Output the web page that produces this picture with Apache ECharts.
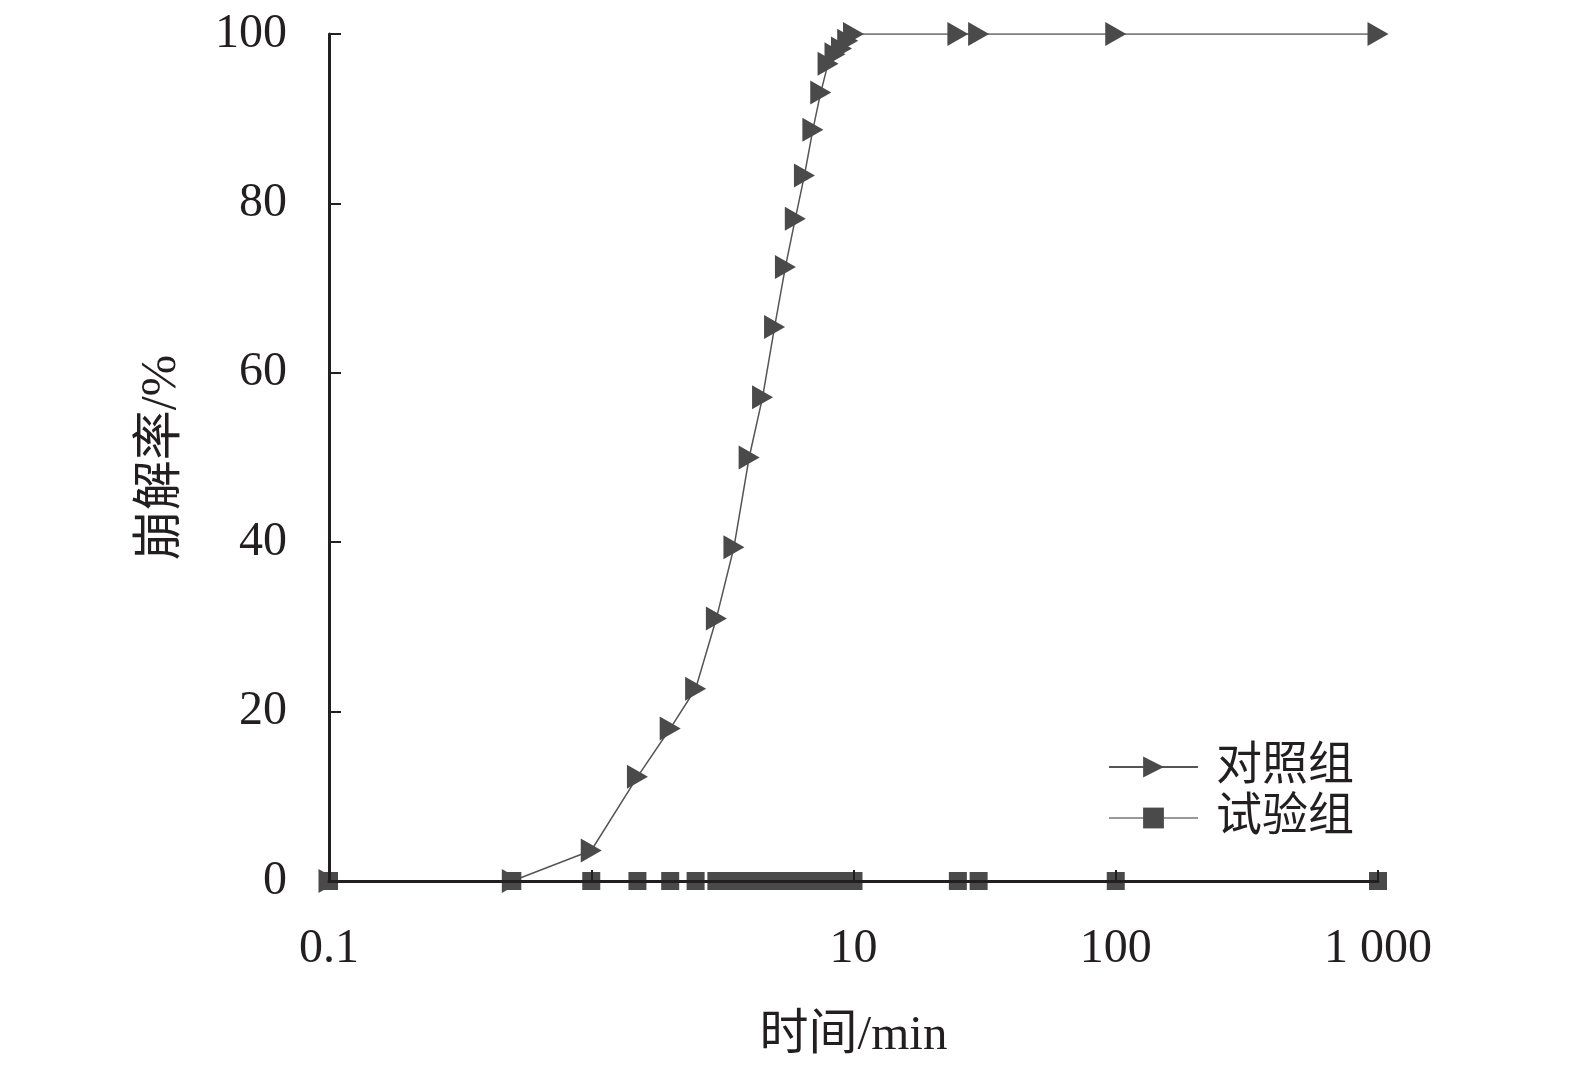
<!DOCTYPE html>
<html lang="zh">

<head>
  <meta charset="UTF-8">
  <title>崩解率</title>
  <script src="https://cdn.jsdelivr.net/npm/echarts@6/dist/echarts.min.js"></script>
  <style>
    html,
    body {
      padding: 0;
      margin: 0;
      background: #fff;
    }

    #chart {
      width: 1575px;
      height: 1073px;
    }
  </style>
</head>

<body>
  <div id="chart"></div>
  <script>
    // 时间 (min)
    const times = [0.1, 0.5, 1, 1.5, 2, 2.5, 3, 3.5, 4, 4.5, 5, 5.5, 6, 6.5, 7, 7.5, 8, 8.5, 9, 9.5, 10, 25, 30, 100, 1000]
    // 对照组崩解率 (%)
    const controlRate = [0, 0, 3.6, 12.3, 18, 22.7, 31, 39.4, 50, 57.1, 65.4, 72.5, 78.2, 83.3, 88.7, 93.1, 96.5, 97.6, 98.3, 99.2, 100, 100, 100, 100, 100]
    // 试验组崩解率 (%)
    const testRate = [0, 0, 0, 0, 0, 0, 0, 0, 0, 0, 0, 0, 0, 0, 0, 0, 0, 0, 0, 0, 0, 0, 0, 0, 0]
    const yTicks = [0, 20, 40, 60, 80, 100]
    const seriesNames = ['对照组', '试验组']

    const FONT = "'Liberation Serif', 'Times New Roman', 'Noto Sans CJK SC', serif"
    const INK = '#231f20'
    const MARK = '#4a4a4a'

    const chart = echarts.init(document.getElementById('chart'))
    chart.setOption({
      animation: false,
      textStyle: { fontFamily: FONT, color: INK },
      grid: { left: 329, right: 197, top: 34, bottom: 192 },
      legend: {
        left: 1103,
        top: 739,
        orient: 'vertical',
        itemWidth: 89,
        itemHeight: 26,
        itemGap: 5,
        textStyle: { fontFamily: FONT, fontSize: 46, color: INK, padding: [0, 0, 0, 13] },
        data: seriesNames
      },
      xAxis: {
        type: 'log',
        logBase: 10,
        min: 0.1,
        max: 1000,
        z: 10,
        name: '时间/min',
        nameLocation: 'middle',
        nameGap: 131,
        nameTextStyle: { fontFamily: FONT, fontSize: 49, color: INK },
        axisLine: { lineStyle: { color: INK, width: 3 } },
        axisTick: { inside: true, length: 11, lineStyle: { color: INK, width: 2 } },
        minorTick: { show: false },
        splitLine: { show: false },
        axisLabel: {
          fontFamily: FONT,
          fontSize: 48,
          color: INK,
          margin: 44,
          formatter: v => v === 1 ? '' : (v >= 1000 ? '1 000' : String(v))
        }
      },
      yAxis: {
        type: 'value',
        min: yTicks[0],
        max: yTicks[yTicks.length - 1],
        interval: 20,
        z: 10,
        name: '崩解率/%',
        nameLocation: 'middle',
        nameRotate: 90,
        nameGap: 142,
        nameTextStyle: { fontFamily: FONT, fontSize: 50, color: INK },
        axisLine: { show: true, lineStyle: { color: INK, width: 3 } },
        axisTick: { show: true, inside: true, length: 12, lineStyle: { color: INK, width: 2 } },
        splitLine: { show: false },
        axisLabel: { fontFamily: FONT, fontSize: 48, color: INK, margin: 42 }
      },
      series: [{
        name: seriesNames[0],
        type: 'line',
        data: times.map((t, i) => [t, controlRate[i]]),
        symbol: 'triangle',
        symbolSize: [24, 21],
        symbolRotate: -90,
        showAllSymbol: true,
        itemStyle: { color: MARK },
        lineStyle: { color: '#555', width: 1.5 },
        z: 3
      }, {
        name: seriesNames[1],
        type: 'line',
        data: times.map((t, i) => [t, testRate[i]]),
        symbol: 'rect',
        symbolSize: 18,
        showAllSymbol: true,
        itemStyle: { color: MARK },
        lineStyle: { color: '#999', width: 1.2 },
        z: 4
      }]
    })
  </script>
</body>

</html>
